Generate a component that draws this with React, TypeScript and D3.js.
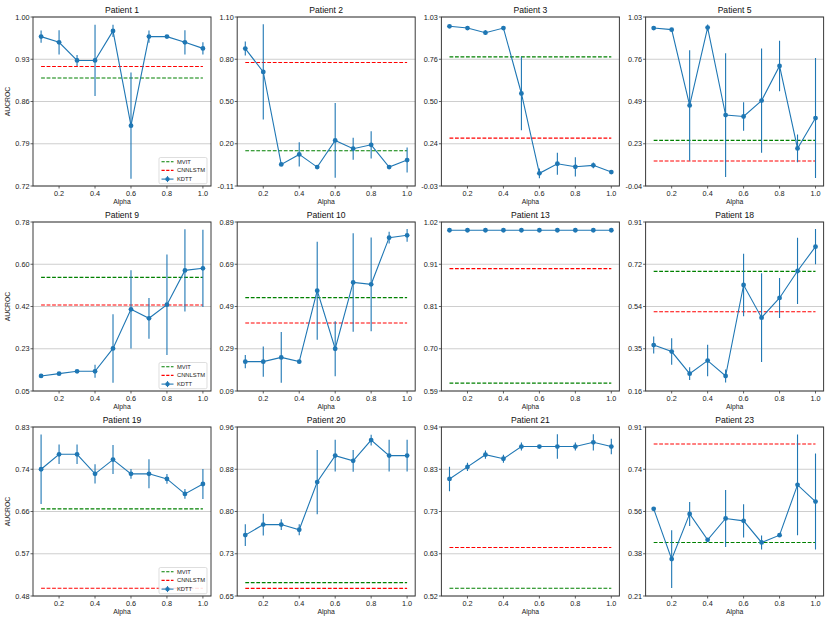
import React from "react";
import * as d3 from "d3";

const alphas = [0.1, 0.2, 0.3, 0.4, 0.5, 0.6, 0.7, 0.8, 0.9, 1.0];
const xTicks = [0.2, 0.4, 0.6, 0.8, 1.0];
const patients = ["Patient 1", "Patient 2", "Patient 3", "Patient 5", "Patient 9", "Patient 10", "Patient 13", "Patient 18", "Patient 19", "Patient 20", "Patient 21", "Patient 23"];

const kdttMean = [
  [0.9675, 0.958, 0.928, 0.928, 0.977, 0.82, 0.9675, 0.9675, 0.958, 0.948],
  [0.8745, 0.708, 0.048, 0.1195, 0.029, 0.219, 0.16, 0.188, 0.029, 0.079],
  [0.97, 0.959, 0.93, 0.959, 0.55, 0.051, 0.111, 0.092, 0.101, 0.059],
  [0.958, 0.948, 0.468, 0.961, 0.407, 0.398, 0.499, 0.718, 0.196, 0.388],
  [0.117, 0.127, 0.137, 0.137, 0.236, 0.405, 0.366, 0.425, 0.573, 0.582],
  [0.229, 0.229, 0.249, 0.229, 0.565, 0.29, 0.604, 0.595, 0.816, 0.827],
  [1.0, 1.0, 1.0, 1.0, 1.0, 1.0, 1.0, 1.0, 1.0, 1.0],
  [0.366, 0.337, 0.239, 0.297, 0.2285, 0.6325, 0.4875, 0.575, 0.6946, 0.8026],
  [0.7445, 0.7755, 0.7755, 0.735, 0.7645, 0.735, 0.735, 0.7245, 0.6935, 0.714],
  [0.7597, 0.779, 0.779, 0.7695, 0.857, 0.9055, 0.896, 0.934, 0.9055, 0.9055],
  [0.8095, 0.839, 0.869, 0.859, 0.889, 0.889, 0.889, 0.889, 0.8994, 0.889],
  [0.571, 0.3618, 0.55, 0.442, 0.531, 0.521, 0.431, 0.4615, 0.671, 0.6015],
];

const kdttStd = [
  [0.01, 0.02, 0.009, 0.059, 0.01, 0.088, 0.01, 0.002, 0.02, 0.01],
  [0.05, 0.34, 0.01, 0.087, 0.005, 0.267, 0.078, 0.097, 0.005, 0.089],
  [0.004, 0.004, 0.015, 0.01, 0.229, 0.03, 0.068, 0.06, 0.018, 0.01],
  [0.004, 0.006, 0.35, 0.02, 0.392, 0.09, 0.33, 0.16, 0.088, 0.38],
  [0.004, 0.004, 0.005, 0.028, 0.148, 0.169, 0.088, 0.217, 0.178, 0.167],
  [0.031, 0.072, 0.12, 0.005, 0.232, 0.13, 0.233, 0.222, 0.028, 0.03],
  [0, 0, 0, 0, 0, 0, 0, 0, 0, 0],
  [0.038, 0.059, 0.028, 0.07, 0.029, 0.139, 0.197, 0.089, 0.147, 0.078],
  [0.072, 0.02, 0.02, 0.02, 0.03, 0.01, 0.03, 0.01, 0.01, 0.031],
  [0.02, 0.02, 0.01, 0.01, 0.059, 0.029, 0.02, 0.01, 0.029, 0.029],
  [0.03, 0.01, 0.01, 0.01, 0.01, 0.002, 0.03, 0.01, 0.02, 0.019],
  [0.004, 0.12, 0.05, 0.004, 0.119, 0.069, 0.029, 0.004, 0.21, 0.2],
];

const mvit = [0.899, 0.146, 0.779, 0.247, 0.543, 0.532, 0.61, 0.693, 0.6625, 0.6725, 0.541, 0.431];
const cnnlstm = [0.918, 0.775, 0.271, 0.116, 0.4235, 0.412, 0.902, 0.514, 0.498, 0.662, 0.641, 0.841];

const yLow = [0.72, -0.106, -0.028, -0.042, 0.052, 0.09, 0.59, 0.162, 0.482, 0.648, 0.522, 0.208];
const yHigh = [1.0, 1.1, 1.028, 1.028, 0.782, 0.89, 1.021, 0.912, 0.832, 0.958, 0.937, 0.912];

const legendNames = ["MVIT", "CNNLSTM", "KDTT"];
const legendPanels = [0, 4, 8];

const FONT = "'Liberation Sans', Arial, Helvetica, sans-serif";
const BLUE = "#1f77b4";
const GREEN = "#008000";
const RED = "#ff0000";

const PW = 178;
const PH = 169;
const LEFT0 = 33;
const DX = 204.2;
const TOP0 = 17;
const DY = 205;

function Panel({ idx }: { idx: number }) {
  const col = idx % 4;
  const row = Math.floor(idx / 4);
  const left = LEFT0 + col * DX;
  const top = TOP0 + row * DY;
  const x = d3.scaleLinear().domain([0.055, 1.045]).range([0, PW]);
  const y = d3.scaleLinear().domain([yLow[idx], yHigh[idx]]).range([PH, 0]);
  const step = (yHigh[idx] - yLow[idx]) / 4;
  const yTicks = d3.range(5).map((k) => yLow[idx] + k * step);
  const means = kdttMean[idx];
  const stds = kdttStd[idx];
  const line = d3
    .line<number>()
    .x((_, i) => x(alphas[i]))
    .y((d) => y(d));
  const showLegend = legendPanels.includes(idx);
  return (
    <g transform={`translate(${left},${top})`}>
      <defs>
        <clipPath id={`clip${idx}`}>
          <rect x={0} y={0} width={PW} height={PH} />
        </clipPath>
      </defs>
      {yTicks.map((t, i) => (
        <line key={i} x1={0} x2={PW} y1={y(t)} y2={y(t)} stroke="#c8c8c8" strokeWidth={0.9} />
      ))}
      <g clipPath={`url(#clip${idx})`}>
        <line x1={x(0.1)} x2={x(1.0)} y1={y(mvit[idx])} y2={y(mvit[idx])} stroke={GREEN} strokeWidth={1.1} strokeDasharray="3.8,1.7" />
        <line x1={x(0.1)} x2={x(1.0)} y1={y(cnnlstm[idx])} y2={y(cnnlstm[idx])} stroke={RED} strokeWidth={1.1} strokeDasharray="3.8,1.7" />
        {means.map((m, i) => (
          <line key={i} x1={x(alphas[i])} x2={x(alphas[i])} y1={y(m - stds[i])} y2={y(m + stds[i])} stroke={BLUE} strokeWidth={1.1} />
        ))}
        <path d={line(means) || ""} fill="none" stroke={BLUE} strokeWidth={1.1} />
        {means.map((m, i) => (
          <circle key={i} cx={x(alphas[i])} cy={y(m)} r={2.4} fill={BLUE} />
        ))}
      </g>
      <rect x={0} y={0} width={PW} height={PH} fill="none" stroke="#3a3a3a" strokeWidth={1} />
      {yTicks.map((t, i) => (
        <g key={i} transform={`translate(0,${y(t)})`}>
          <line x1={-2.5} x2={0} stroke="#3a3a3a" strokeWidth={0.8} />
          <text x={-3.5} dy="0.35em" textAnchor="end" fontSize={7.3} fontFamily={FONT} fill="#222">
            {t.toFixed(2)}
          </text>
        </g>
      ))}
      {xTicks.map((t, i) => (
        <g key={i} transform={`translate(${x(t)},${PH})`}>
          <line y1={0} y2={2.5} stroke="#3a3a3a" strokeWidth={0.8} />
          <text y={9.5} textAnchor="middle" fontSize={7.3} fontFamily={FONT} fill="#222">
            {t.toFixed(1)}
          </text>
        </g>
      ))}
      <text x={PW / 2} y={-4} textAnchor="middle" fontSize={8.6} fontFamily={FONT} fill="#111">
        {patients[idx]}
      </text>
      <text x={PW / 2} y={PH + 17.5} textAnchor="middle" fontSize={6.8} fontFamily={FONT} fill="#222">
        Alpha
      </text>
      {col === 0 && (
        <text transform={`translate(${-23},${PH / 2}) rotate(-90)`} textAnchor="middle" fontSize={6.8} fontFamily={FONT} fill="#222">
          AUCROC
        </text>
      )}
      {showLegend && (
        <g transform={`translate(${PW - 52},${PH - 28.5})`}>
          <rect x={0} y={0} width={48} height={26.2} rx={1.5} fill="white" fillOpacity={0.85} stroke="#d0d0d0" strokeWidth={0.7} />
          {legendNames.map((n, i) => {
            const cy = 4.2 + i * 8.7;
            return (
              <g key={n}>
                {i < 2 ? (
                  <line x1={2.5} x2={14.5} y1={cy} y2={cy} stroke={i === 0 ? GREEN : RED} strokeWidth={1.1} strokeDasharray="3.2,1.5" />
                ) : (
                  <g>
                    <line x1={2.5} x2={14.5} y1={cy} y2={cy} stroke={BLUE} strokeWidth={1.1} />
                    <line x1={8.5} x2={8.5} y1={cy - 3} y2={cy + 3} stroke={BLUE} strokeWidth={1.1} />
                    <circle cx={8.5} cy={cy} r={2.2} fill={BLUE} />
                  </g>
                )}
                <text x={18} y={cy} dy="0.35em" fontSize={5.8} fontFamily={FONT} fill="#222">
                  {n}
                </text>
              </g>
            );
          })}
        </g>
      )}
    </g>
  );
}

export default function App() {
  return (
    <svg
      width={830}
      height={623}
      style={{ position: "absolute", left: 0, top: 0, background: "white" }}
    >
      <rect x={0} y={0} width={830} height={623} fill="white" />
      {patients.map((_, i) => (
        <Panel key={i} idx={i} />
      ))}
    </svg>
  );
}
